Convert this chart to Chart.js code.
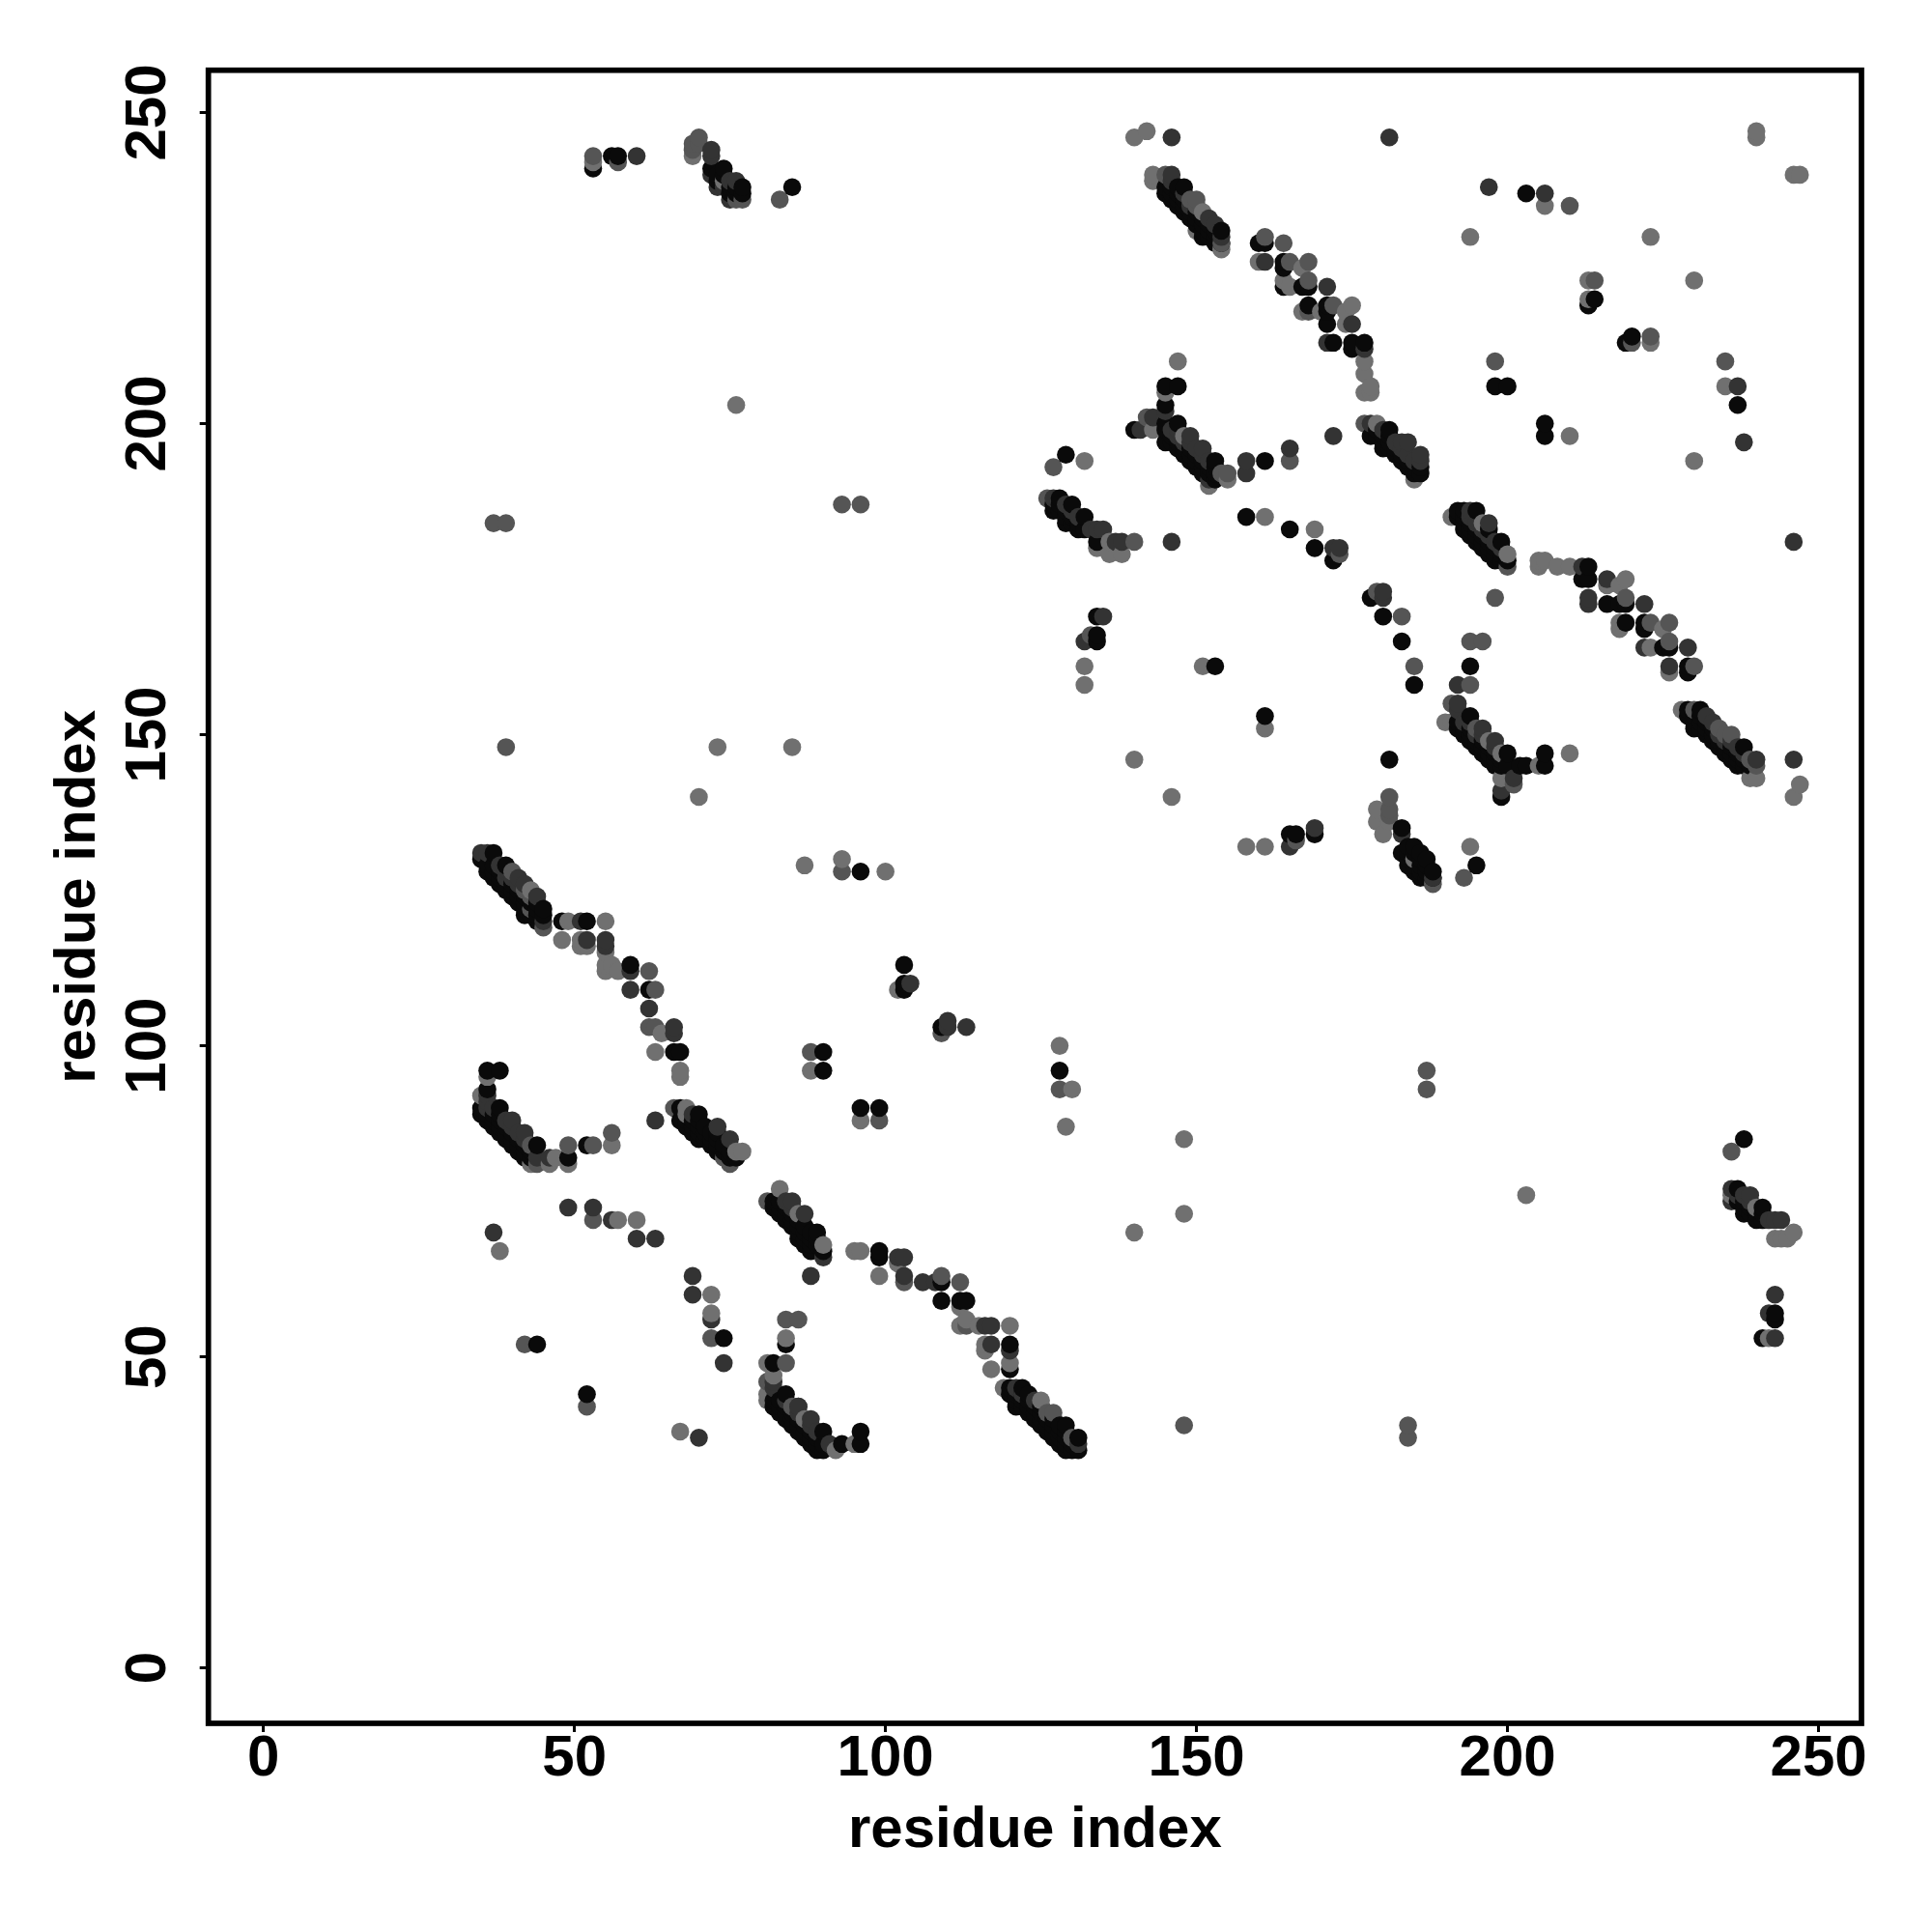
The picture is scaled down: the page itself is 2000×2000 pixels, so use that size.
<!DOCTYPE html>
<html>
<head>
<meta charset="utf-8">
<title>residue contacts</title>
<script src="https://cdn.jsdelivr.net/npm/chart.js@4"></script>
<style>
  html, body { margin:0; padding:0; background:#fff; }
  canvas { display:block; }
</style>
</head>
<body>
<canvas id="contacts" width="2000" height="2000"></canvas>
<script>
// each contact is [residue x, residue y, level], level 0 = strongest, 3 = weakest
const stripA = [[35,130,0],[35,131,1],[36,131,1],[37,131,0],[36,129,0],[36,128,0],[37,129,0],[38,128,0],[38,126,0],[39,129,0],[39,127,1],[40,124,0],[40,126,0],[40,128,2],[41,127,1],[41,125,0],[42,123,0],[42,121,0],[42,125,2],[43,125,3],[43,124,2],[43,123,0],[43,122,2],[44,121,0],[44,123,0],[44,120,0],[45,122,0],[45,121,0],[45,120,1],[45,119,2],[48,120,0],[49,120,3],[48,117,3],[51,120,1],[52,120,0],[51,117,3],[51,116,3],[52,116,3],[52,117,1],[55,120,3],[55,117,1],[55,116,1],[55,115,3],[55,112,3],[55,113,3],[56,113,3],[57,112,3],[59,113,0],[59,112,1],[62,112,2],[59,109,1],[62,109,0],[63,109,2],[62,106,1],[62,103,2],[63,103,2],[64,102,3],[66,103,1],[66,102,1],[63,99,3],[66,99,0],[67,99,0],[67,96,3],[67,95,3]];
const stripB = [[36,96,0],[38,96,0],[36,95,3],[36,93,0],[35,92,3],[36,92,1],[35,89,0],[35,90,0],[36,90,1],[36,91,1],[38,90,0],[37,87,0],[38,89,0],[39,88,1],[40,88,1],[39,85,0],[41,83,0],[42,86,1],[43,84,2],[44,84,0],[43,81,3],[44,81,2],[46,81,3],[46,82,1],[40,85,0],[42,83,0],[43,82,0],[44,82,1],[47,82,3],[49,81,3],[49,82,0],[49,84,2],[52,84,0],[53,84,2],[56,84,3],[56,86,2]];
const stripC = [[63,88,1],[66,90,2],[67,90,0],[68,90,3],[67,88,0],[69,86,0],[70,89,0],[70,88,0],[68,89,3],[72,84,0],[73,87,1],[73,86,0],[75,85,1],[74,82,2],[75,81,2],[76,83,3],[77,83,3],[76,82,0],[74,83,0]];
const stripD = [[81,75,2],[83,77,3],[82,74,0],[84,75,1],[85,75,1],[84,72,0],[86,73,3],[87,73,1],[86,69,0],[87,71,0],[89,70,0],[88,67,0],[90,68,3],[90,66,1],[90,67,0],[88,63,1],[95,67,3],[96,67,3],[99,67,0],[99,66,0],[99,63,3],[102,66,1],[103,66,1],[102,65,3],[103,63,1],[103,62,2],[106,62,1],[108,62,1],[109,63,2],[109,62,0],[112,62,2],[109,59,0],[112,59,0],[113,59,0],[112,58,3],[113,56,3],[112,55,3],[113,55,2],[115,55,3],[116,55,1],[117,55,1],[120,55,3],[116,52,3],[116,51,3],[117,52,1],[120,52,0],[120,51,1],[117,48,3],[120,49,3],[120,48,0],[119,45,3],[120,45,0],[121,45,1],[122,45,0],[120,44,0],[121,42,0],[122,43,0],[124,43,1],[125,43,3],[124,40,0],[126,41,2],[127,41,2],[126,38,0],[129,39,0],[128,36,0],[130,37,2],[131,37,0],[131,35,0],[130,35,0],[131,36,1]];
const stripE = [[69,63,1],[69,60,1],[72,60,3],[72,57,3],[72,56,1],[72,53,2],[74,53,0],[74,49,1],[84,56,2],[86,56,2],[84,53,3],[84,52,0],[81,49,3],[82,49,0],[84,49,2],[81,46,2],[82,46,1],[82,47,3],[81,43,3],[82,45,1],[81,44,3],[84,44,0],[83,41,0],[85,42,2],[86,42,1],[85,39,0],[87,37,0],[88,40,1],[87,40,3],[90,38,0],[89,35,0],[90,35,0],[91,36,1],[92,35,3],[93,36,0],[96,38,0],[96,36,0],[95,36,3]];
const stripG = [[143,240,3],[143,239,3],[145,240,2],[146,240,1],[145,238,0],[145,237,0],[148,238,0],[147,235,0],[149,236,2],[150,236,2],[149,233,0],[151,230,0],[152,233,1],[151,234,3],[154,231,0],[154,230,1],[154,229,2],[154,228,3],[153,229,0],[150,231,3],[152,232,0]];
const stripH = [[160,229,0],[161,230,2],[161,229,0],[160,226,3],[161,226,1],[164,229,2],[164,226,0],[164,225,0],[165,226,2],[167,225,3],[168,226,2],[164,223,3],[164,222,0],[165,222,3],[167,222,0],[168,222,0],[168,223,2],[171,222,1],[167,218,3],[168,219,0],[168,218,2],[170,218,3],[171,219,0],[171,218,0],[172,219,2],[171,216,0],[174,218,3],[175,219,3],[174,216,3],[175,216,1],[171,213,1],[172,213,0],[175,213,0],[175,212,0],[177,213,0],[177,212,1],[177,210,3],[177,208,3],[178,206,3],[177,205,3],[178,205,3]];
const stripI = [[147,210,3],[145,206,0],[147,206,0],[145,205,3],[145,203,0],[145,202,1],[140,199,0],[141,199,1],[142,201,2],[143,201,1],[143,199,3],[145,200,0],[147,200,0],[145,197,0],[148,195,0],[149,198,1],[148,198,3],[151,196,1],[150,193,0],[153,194,0],[152,190,3],[152,191,1],[154,192,2],[155,192,2],[155,191,3],[158,194,1],[158,192,1],[161,194,0],[165,196,1],[165,194,2],[172,198,1]];
const stripJ = [[177,200,2],[178,200,1],[179,200,3],[178,198,0],[180,196,0],[181,199,0],[181,198,0],[183,194,0],[183,197,1],[184,197,1],[186,195,1],[186,194,1],[186,193,0],[186,192,0],[185,191,3],[185,192,0]];
const stripM = [[126,188,2],[127,188,1],[128,188,0],[127,186,0],[130,187,0],[129,184,0],[132,185,0],[131,183,0],[133,183,1],[134,183,1],[135,183,1],[134,181,0],[134,180,3],[136,181,3],[136,179,3],[137,181,1],[138,181,1],[138,179,3],[140,181,2],[146,181,1],[158,185,0],[161,185,3],[165,183,0],[169,183,3],[169,180,0],[172,180,1],[173,180,1],[172,178,0],[173,179,2]];
const stripN = [[181,140,2],[179,138,3],[181,138,2],[179,136,3],[181,137,2],[180,134,3],[181,136,3],[183,135,0],[183,134,1],[184,132,0],[185,132,0],[183,131,0],[184,129,0],[186,131,0],[187,130,0],[186,127,0],[188,128,0],[188,127,1],[188,126,2],[185,130,3]];
const stripO = [[191,185,3],[192,186,0],[193,186,0],[194,186,1],[195,186,0],[192,185,0],[194,183,0],[197,184,1],[196,184,3],[197,183,0],[196,180,0],[197,180,0],[199,181,0],[198,178,0],[200,179,3],[200,178,0],[200,177,2],[205,178,3],[206,178,3],[205,177,3],[208,177,3],[210,177,3],[212,177,1],[213,177,0],[212,175,0],[213,175,0],[213,172,1],[213,171,1],[216,175,1],[216,174,3],[218,174,3],[219,175,3],[216,171,0],[218,171,0],[219,172,2],[219,171,0],[219,168,0],[218,168,3],[218,167,3],[222,171,1],[222,168,0],[223,168,2],[222,167,0],[222,164,1],[223,164,3],[225,167,3],[226,168,2],[225,164,0],[226,165,2],[226,164,0],[229,164,1],[226,161,1],[226,160,3],[229,161,0],[229,160,0],[230,161,2]];
const stripP = [[228,154,3],[229,154,0],[230,154,2],[231,154,0],[229,153,0],[230,151,0],[231,152,0],[233,152,1],[234,151,2],[233,149,0],[235,150,2],[236,150,2],[235,147,0],[238,148,0],[237,145,0],[239,146,2],[240,146,1],[239,143,3],[240,143,3],[240,145,2]];
const stripQ = [[191,155,2],[192,155,1],[190,152,3],[191,152,3],[192,154,1],[194,153,0],[192,151,0],[193,150,0],[195,148,0],[196,151,1],[195,151,2],[198,149,1],[197,149,3],[197,146,0],[199,145,0],[200,147,0],[199,147,3],[199,143,3],[201,143,1],[201,142,2],[199,141,1],[199,140,0],[202,145,0],[203,145,0],[205,145,3],[206,145,0],[206,147,0],[210,147,3]];
const stripR = [[238,85,0],[236,83,2],[236,77,1],[237,77,0],[236,76,3],[236,75,1],[238,73,0],[238,76,1],[239,76,1],[240,74,3],[241,74,0],[240,72,0],[241,72,0],[244,72,1],[243,69,3],[244,69,3],[245,69,3],[246,70,3],[243,60,1],[242,57,1],[243,57,0],[243,56,0],[241,53,0],[242,53,3],[243,53,1]];
const topLeft = [[53,243,2],[53,242,3],[53,241,0],[56,243,0],[57,243,0],[57,242,2],[60,243,1],[69,245,2],[69,244,2],[69,243,3],[70,246,2],[70,245,2],[72,244,1],[72,243,1],[72,241,0],[74,241,0],[73,238,1],[72,240,1],[74,239,3],[76,239,1],[75,236,1],[77,237,0],[77,236,2],[76,236,2],[83,236,2],[85,238,0]];
const topRight = [[240,247,3],[240,246,3],[246,240,3],[247,240,3],[197,238,1],[203,237,0],[206,237,1],[206,235,3],[210,235,2],[194,230,3],[223,230,3],[213,223,3],[214,223,2],[230,223,3],[213,220,3],[213,219,0],[214,220,0],[219,213,0],[220,214,0],[220,213,2],[223,214,2],[223,213,3],[198,210,2],[235,210,2],[198,206,0],[200,206,0],[235,206,3],[237,206,1],[237,203,0],[206,200,0],[206,198,0],[210,198,3],[238,197,1],[230,194,3],[140,246,3],[142,247,3],[146,246,1],[181,246,1],[129,195,0],[127,193,2],[132,194,3]];
const scattered = [[87,129,3],[93,130,3],[93,128,2],[96,128,0],[100,128,3],[88,99,2],[90,99,0],[88,96,3],[90,96,0],[96,90,0],[99,90,0],[96,88,3],[99,88,2],[103,113,0],[102,109,3],[103,109,0],[104,110,1],[103,110,0],[109,102,2],[109,103,0],[110,104,1],[110,103,1],[113,103,1],[128,100,3],[128,96,0],[128,93,2],[130,93,3],[129,87,3],[49,74,1],[53,74,1],[53,72,2],[56,72,1],[57,72,3],[60,72,3],[60,69,1],[63,69,1],[37,70,1],[38,67,3],[67,38,3],[70,37,1],[52,44,0],[52,42,2],[42,52,2],[44,52,0],[148,39,2],[184,39,2],[184,37,2],[37,184,2],[39,184,2],[39,148,2],[73,148,3],[85,148,3],[70,140,3],[76,203,3],[93,187,2],[96,187,2],[187,96,2],[187,93,2],[148,85,3],[148,73,3],[140,70,3],[203,76,3],[134,169,0],[135,169,1],[132,165,1],[133,166,2],[134,166,0],[134,165,0],[132,161,3],[132,158,3],[151,161,3],[153,161,0],[161,153,0],[161,151,3],[140,146,3],[146,140,3],[181,146,0],[158,132,3],[161,132,3],[165,132,1],[165,134,0],[166,134,0],[166,133,2],[169,135,1],[169,134,0],[178,172,0],[179,173,2],[180,173,1],[180,172,1],[180,169,0],[183,169,2],[183,165,0],[185,161,2],[185,158,0],[194,165,2],[196,165,2],[194,161,0],[192,158,1],[194,158,2],[198,172,2],[194,132,3],[195,129,0],[193,127,2],[246,181,1],[246,146,1],[247,142,3],[246,140,3]];

// contacts inside the solid black runs, mostly hidden under the ones above
const coreA = [[37,127,0],[39,125,0],[40,125,0],[41,123,0],[41,124,0],[42,122,0],[42,124,0],[43,121,0],[37,128,0],[38,127,0],[39,126,0],[38,129,1],[39,128,1],[40,127,1],[41,126,1],[42,126,1],[44,122,0],[44,124,1]];
const coreB = [[36,89,0],[36,88,0],[37,89,0],[37,88,0],[38,88,0],[38,87,0],[38,86,0],[39,87,0],[39,86,0],[40,86,0],[40,84,0],[41,85,0],[41,84,0],[42,84,0],[42,82,0],[37,90,1],[40,87,1],[41,86,1],[42,85,1],[43,83,0]];
const coreC = [[68,88,0],[68,87,0],[69,88,0],[69,87,0],[70,87,0],[70,86,0],[70,85,0],[71,87,0],[71,86,0],[71,85,0],[72,86,0],[72,85,0],[73,85,0],[73,84,0],[73,83,0],[74,84,0],[75,83,0],[75,82,0],[69,89,1]];
const coreD = [[82,75,0],[83,75,0],[83,74,0],[83,73,0],[84,74,0],[84,73,0],[85,74,1],[85,73,0],[85,72,0],[85,71,0],[86,72,0],[86,71,0],[86,70,0],[87,70,0],[87,69,0],[87,68,0],[88,70,0],[88,69,0],[88,68,0],[89,69,0],[89,68,0]];
const coreD2 = [[122,44,0],[122,42,0],[123,44,0],[123,43,0],[123,42,0],[123,41,0],[124,42,0],[124,41,0],[125,42,0],[125,41,0],[125,40,0],[125,39,0],[126,40,0],[126,39,0],[127,40,0],[127,39,0],[127,38,0],[127,37,0],[128,39,0],[128,38,0],[128,37,0],[129,38,0],[129,37,0],[129,36,0],[129,35,0],[130,36,0],[121,44,0],[121,43,0],[122,44,1]];
const coreE = [[82,42,0],[82,43,0],[83,43,0],[83,42,0],[84,43,1],[84,42,0],[84,41,0],[84,40,0],[85,41,0],[85,40,0],[86,41,1],[86,40,0],[86,39,0],[86,38,0],[87,39,0],[87,38,0],[88,39,1],[88,38,0],[88,37,0],[88,36,0],[89,38,1],[89,37,0],[89,36,0],[90,36,0],[86,42,1]];
const coreG = [[146,239,1],[146,238,0],[146,237,0],[146,236,0],[147,238,0],[147,237,0],[147,236,0],[148,237,1],[148,236,0],[148,235,0],[148,234,0],[149,235,1],[149,234,0],[150,235,2],[150,234,0],[150,233,0],[150,232,0],[151,233,0],[151,232,0],[151,231,0],[152,231,0],[152,230,0],[153,232,1],[153,231,0],[153,230,0],[154,229,0]];
const coreI = [[145,199,0],[146,199,1],[146,198,0],[146,197,0],[147,199,1],[147,198,1],[147,197,0],[147,196,0],[148,197,1],[148,196,0],[149,197,1],[149,196,0],[149,195,0],[149,194,0],[150,196,1],[150,195,0],[150,194,0],[151,195,1],[151,194,0],[151,193,0],[151,192,0],[152,194,1],[152,193,0],[152,192,0],[153,193,0],[153,192,0],[153,191,0]];
const coreJ = [[179,199,0],[179,198,0],[180,199,1],[180,198,0],[180,197,0],[181,197,0],[181,196,0],[182,197,1],[182,196,0],[182,195,0],[183,196,1],[183,195,0],[184,195,1],[184,194,0],[184,193,0],[185,194,1],[185,193,0]];
const coreM = [[127,187,0],[128,187,0],[128,186,0],[129,187,1],[129,186,0],[129,185,0],[130,186,1],[130,185,0],[130,184,0],[131,185,1],[131,184,0],[132,183,0]];
const coreN = [[184,131,0],[184,130,0],[185,131,0],[185,129,0],[185,128,0],[186,130,0],[186,129,0],[186,128,0],[187,129,0],[187,128,0],[187,127,0],[188,127,0]];
const coreO = [[193,185,0],[193,184,0],[193,183,0],[194,185,1],[194,184,0],[194,182,0],[195,184,1],[195,183,0],[195,182,0],[195,181,0],[196,183,1],[196,182,0],[196,181,0],[197,182,1],[197,181,0],[197,179,0],[198,181,1],[198,180,0],[198,179,0],[199,180,1],[199,179,0],[199,178,0]];
const coreP = [[230,153,0],[230,152,0],[231,153,0],[231,151,0],[232,153,1],[232,152,0],[232,151,0],[232,150,0],[233,151,0],[233,150,0],[234,150,1],[234,149,0],[234,148,0],[235,149,1],[235,148,0],[236,149,1],[236,148,0],[236,147,0],[236,146,0],[237,148,1],[237,147,0],[237,146,0],[238,147,1],[238,146,0],[238,145,0],[239,145,0]];
const coreQ = [[192,152,0],[193,152,1],[193,151,0],[194,152,1],[194,151,0],[194,150,0],[194,149,0],[195,150,1],[195,149,0],[196,150,1],[196,149,0],[196,148,0],[196,147,0],[197,148,0],[197,147,0],[198,148,1],[198,147,0],[198,146,0],[198,145,0],[199,146,0],[200,145,0]];
const coreR = [[237,76,1],[237,75,0],[238,75,0],[238,74,0],[239,75,1],[239,74,0],[239,73,0],[240,73,0],[241,73,0],[242,72,1],[243,72,1]];
const coreTop = [[73,240,0],[73,239,0],[74,240,0],[74,238,1],[75,239,1],[75,238,0],[75,237,0],[76,238,0],[76,237,0],[77,238,0]];

const tickValues = [0, 50, 100, 150, 200, 250];
const axisTitle = 'residue index';
const levelGreys = ['#0a0a0a', '#333333', '#555555', '#707070'];

// later residues paint over earlier ones, same as the source plot
const contacts = [].concat(coreA, coreB, coreC, coreD, coreD2, coreE, coreG, coreI, coreJ, coreM, coreN, coreO, coreP, coreQ, coreR, coreTop,
  stripA, stripB, stripC, stripD, stripE, stripG, stripH, stripI, stripJ,
  stripM, stripN, stripO, stripP, stripQ, stripR, topLeft, topRight, scattered)
  .sort((a, b) => a[0] - b[0] || a[1] - b[1]);

const tickFont = { family: '"Liberation Sans"', size: 60, weight: 'bold' };

function fixedTicks(scale) {
  scale.ticks = tickValues.map(v => ({ value: v }));
}

const frame = {
  id: 'frame',
  afterDatasetsDraw(chart) {
    const a = chart.chartArea, ctx = chart.ctx;
    ctx.save();
    ctx.strokeStyle = '#000';
    ctx.lineWidth = 5.7;
    ctx.strokeRect(a.left, a.top, a.right - a.left, a.bottom - a.top);
    ctx.restore();
  }
};

new Chart(document.getElementById('contacts').getContext('2d'), {
  type: 'scatter',
  data: {
    datasets: [{
      label: 'contacts',
      data: contacts.map(c => ({ x: c[0], y: c[1] })),
      pointBackgroundColor: contacts.map(c => levelGreys[c[2]]),
      pointBorderWidth: 0,
      pointRadius: 9.3
    }]
  },
  options: {
    responsive: false,
    animation: false,
    layout: { padding: { top: 72.7, right: 73, left: 0, bottom: 0 } },
    plugins: { legend: { display: false }, tooltip: { enabled: false } },
    scales: {
      x: {
        type: 'linear',
        min: -8.85,
        max: 256.9,
        afterBuildTicks: fixedTicks,
        afterFit(scale) { scale.height = 216; },
        border: { display: false },
        grid: { drawOnChartArea: false, tickLength: 9, tickWidth: 3, tickColor: '#000' },
        ticks: { color: '#000', font: tickFont, padding: -8, maxRotation: 0, autoSkip: false },
        title: { display: true, text: axisTitle, color: '#000', font: tickFont, padding: { top: 0, bottom: 69 } }
      },
      y: {
        type: 'linear',
        min: -8.9,
        max: 256.8,
        afterBuildTicks: fixedTicks,
        afterFit(scale) { scale.width = 215.7; },
        border: { display: false },
        grid: { drawOnChartArea: false, tickLength: 9, tickWidth: 3, tickColor: '#000' },
        ticks: { color: '#000', font: tickFont, padding: 2, minRotation: 90, maxRotation: 90, crossAlign: 'center', autoSkip: false },
        title: { display: true, text: axisTitle, color: '#000', font: tickFont, padding: { top: 45, bottom: 0 } }
      }
    }
  },
  plugins: [frame]
});
</script>
</body>
</html>
